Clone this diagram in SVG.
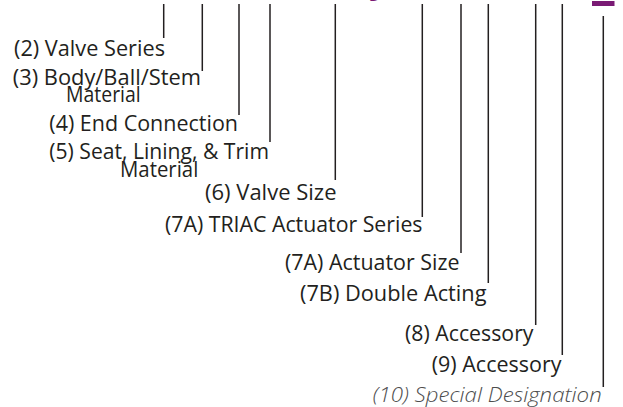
<svg xmlns="http://www.w3.org/2000/svg" width="623" height="407" viewBox="0 0 623 407">
<style>
.t{font-family:"Open Sans","Noto Sans","DejaVu Sans",sans-serif;font-size:21px;fill:#231f20}
.i{font-family:"Open Sans","Noto Sans","DejaVu Sans",sans-serif;font-size:21px;font-style:italic;font-weight:300;fill:#4d4d4d}
.c line{stroke:#231f20;stroke-width:1.5}
</style>
<rect width="623" height="407" fill="#fff"/>
<text x="373" y="-8" style="font-family:'Open Sans',sans-serif;font-size:40px;font-weight:bold;font-style:italic;fill:#7a1a74">y</text>
<rect x="592" y="1" width="22.5" height="5" fill="#7a1a74"/>
<g class="c" id="connectors">
<line x1="163.7" y1="4" x2="163.7" y2="38"/>
<line x1="202.3" y1="4" x2="202.3" y2="71"/>
<line x1="239" y1="4" x2="239" y2="115"/>
<line x1="270" y1="4" x2="270" y2="142"/>
<line x1="335.3" y1="4" x2="335.3" y2="180"/>
<line x1="422.3" y1="4" x2="422.3" y2="217"/>
<line x1="461" y1="4" x2="461" y2="253"/>
<line x1="488.3" y1="4" x2="488.3" y2="283"/>
<line x1="535.7" y1="4" x2="535.7" y2="325"/>
<line x1="562.3" y1="4" x2="562.3" y2="355"/>
<line x1="603.3" y1="16" x2="603.3" y2="387"/>
</g>
<g id="n2"><text class="t" x="14" y="55.5" textLength="151" lengthAdjust="spacingAndGlyphs">(2) Valve Series</text></g>
<g id="n3"><text class="t" x="12.7" y="85" textLength="188.3" lengthAdjust="spacingAndGlyphs">(3) Body/Ball/Stem</text><text class="t" x="66" y="101.5" textLength="74.7" lengthAdjust="spacingAndGlyphs">Material</text></g>
<g id="n4"><text class="t" x="49.3" y="131" textLength="188.7" lengthAdjust="spacingAndGlyphs">(4) End Connection</text></g>
<g id="n5"><text class="t" x="49.3" y="158.5" textLength="219.7" lengthAdjust="spacingAndGlyphs">(5) Seat, Lining, &amp; Trim</text><text class="t" x="120" y="176.5" textLength="78.3" lengthAdjust="spacingAndGlyphs">Material</text></g>
<g id="n6"><text class="t" x="205" y="200" textLength="131.5" lengthAdjust="spacingAndGlyphs">(6) Valve Size</text></g>
<g id="n7a1"><text class="t" x="165" y="231.5" textLength="257.5" lengthAdjust="spacingAndGlyphs">(7A) TRIAC Actuator Series</text></g>
<g id="n7a2"><text class="t" x="285" y="269.5" textLength="174.5" lengthAdjust="spacingAndGlyphs">(7A) Actuator Size</text></g>
<g id="n7b"><text class="t" x="300" y="300.5" textLength="186.5" lengthAdjust="spacingAndGlyphs">(7B) Double Acting</text></g>
<g id="n8"><text class="t" x="405" y="341" textLength="128.5" lengthAdjust="spacingAndGlyphs">(8) Accessory</text></g>
<g id="n9"><text class="t" x="431.7" y="371.5" textLength="129.8" lengthAdjust="spacingAndGlyphs">(9) Accessory</text></g>
<g id="n10"><text class="i" x="372.7" y="401.5" textLength="229" lengthAdjust="spacingAndGlyphs">(10) Special Designation</text></g>
</svg>
